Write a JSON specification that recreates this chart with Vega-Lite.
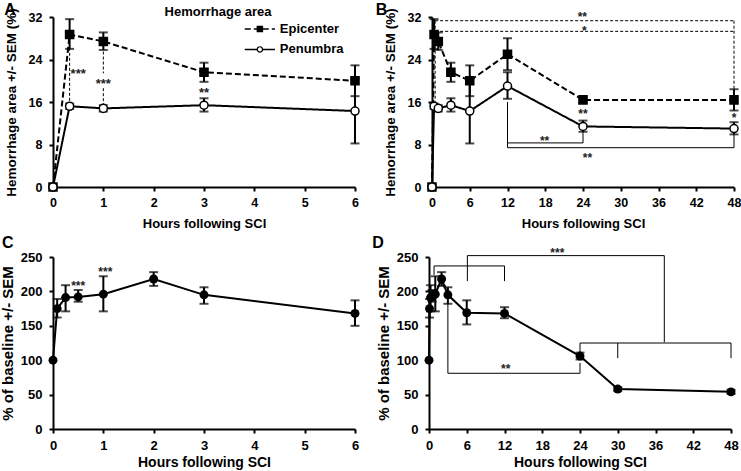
{
"$schema":"https://vega.github.io/schema/vega-lite/v6.json",
"padding":{"left":0,"top":2,"right":2,"bottom":2},
"background":"white",
"config":{
 "font":"Liberation Sans",
 "view":{"stroke":null},
 "axis":{"grid":false,"domainColor":"black","domainWidth":2,"tickColor":"black","tickWidth":2,"tickSize":4,"labelFont":"Liberation Sans","labelFontWeight":"bold","labelColor":"black","titleFont":"Liberation Sans","titleFontWeight":"bold","titleColor":"black","labelFlush":false,"labelOverlap":false},
 "axisX":{"labelPadding":5},
 "axisY":{"labelPadding":7},
 "text":{"font":"Liberation Sans"}
},
"datasets":{
 "A":[
  {"s":"Epicenter","h":0,"v":0,"lo":null,"hi":null},
  {"s":"Epicenter","h":0.33,"v":28.7,"lo":26.0,"hi":31.6},
  {"s":"Epicenter","h":1,"v":27.4,"lo":25.8,"hi":29.1},
  {"s":"Epicenter","h":3,"v":21.6,"lo":19.8,"hi":23.4},
  {"s":"Epicenter","h":6,"v":20.0,"lo":17.1,"hi":22.9},
  {"s":"Penumbra","h":0,"v":0,"lo":null,"hi":null},
  {"s":"Penumbra","h":0.33,"v":15.2,"lo":14.7,"hi":15.7},
  {"s":"Penumbra","h":1,"v":14.8,"lo":14.2,"hi":15.4},
  {"s":"Penumbra","h":3,"v":15.4,"lo":14.2,"hi":16.7},
  {"s":"Penumbra","h":6,"v":14.3,"lo":8.2,"hi":20.4}
 ],
 "B":[
  {"s":"Epicenter","h":0,"v":0,"lo":null,"hi":null},
  {"s":"Epicenter","h":0.33,"v":28.7,"lo":26.0,"hi":31.6},
  {"s":"Epicenter","h":1,"v":27.4,"lo":25.8,"hi":29.1},
  {"s":"Epicenter","h":3,"v":21.6,"lo":19.8,"hi":23.4},
  {"s":"Epicenter","h":6,"v":20.0,"lo":17.1,"hi":22.9},
  {"s":"Epicenter","h":12,"v":25.0,"lo":22.0,"hi":28.0},
  {"s":"Epicenter","h":24,"v":16.4,"lo":15.9,"hi":16.9},
  {"s":"Epicenter","h":48,"v":16.4,"lo":14.4,"hi":18.4},
  {"s":"Penumbra","h":0,"v":0,"lo":null,"hi":null},
  {"s":"Penumbra","h":0.33,"v":15.2,"lo":14.7,"hi":15.7},
  {"s":"Penumbra","h":1,"v":14.8,"lo":14.2,"hi":15.4},
  {"s":"Penumbra","h":3,"v":15.4,"lo":14.2,"hi":16.7},
  {"s":"Penumbra","h":6,"v":14.3,"lo":8.2,"hi":20.4},
  {"s":"Penumbra","h":12,"v":19.0,"lo":16.6,"hi":21.6},
  {"s":"Penumbra","h":24,"v":11.4,"lo":10.4,"hi":12.5},
  {"s":"Penumbra","h":48,"v":11.0,"lo":9.9,"hi":12.2}
 ],
 "C":[
  {"h":0,"v":100,"lo":null,"hi":null},
  {"h":0.083,"v":175,"lo":162,"hi":189},
  {"h":0.25,"v":191,"lo":171,"hi":209},
  {"h":0.5,"v":192,"lo":185,"hi":202},
  {"h":1,"v":196,"lo":171,"hi":222},
  {"h":2,"v":218,"lo":208,"hi":228},
  {"h":3,"v":195,"lo":182,"hi":206},
  {"h":6,"v":168,"lo":150,"hi":187}
 ],
 "D":[
  {"h":0,"v":100,"lo":null,"hi":null},
  {"h":0.083,"v":175,"lo":162,"hi":189},
  {"h":0.25,"v":191,"lo":171,"hi":209},
  {"h":0.5,"v":192,"lo":185,"hi":202},
  {"h":1,"v":196,"lo":171,"hi":222},
  {"h":2,"v":218,"lo":208,"hi":228},
  {"h":3,"v":195,"lo":182,"hi":206},
  {"h":6,"v":169,"lo":152,"hi":187},
  {"h":12,"v":168,"lo":161,"hi":177},
  {"h":24,"v":106,"lo":101,"hi":111},
  {"h":30,"v":58,"lo":55,"hi":61},
  {"h":48,"v":54,"lo":51,"hi":57}
 ],
 "A_dash":[
  {"h":0.33,"h2":0.33,"v":26.2,"v2":16.0},
  {"h":1,"h2":1,"v":25.5,"v2":21.4},
  {"h":1,"h2":1,"v":18.6,"v2":15.6}
 ],
 "A_stars":[
  {"h":0.5,"v":21.8,"t":"***"},
  {"h":1,"v":20.0,"t":"***"},
  {"h":3,"v":18.3,"t":"**"}
 ],
 "A_lab":[
  {"h":-0.854,"v":33.3,"t":"A","k":"letter"},
  {"h":3.28,"v":33.0,"t":"Hemorrhage area","k":"title"}
 ],
 "A_leg_line":[
  {"s":"Epicenter","h":3.81,"h2":4.41,"v":29.75,"v2":29.75},
  {"s":"Penumbra","h":3.81,"h2":4.41,"v":25.9,"v2":25.9}
 ],
 "A_leg_pt":[
  {"s":"Epicenter","h":4.11,"v":29.75,"t":"Epicenter"},
  {"s":"Penumbra","h":4.11,"v":25.9,"t":"Penumbra"}
 ],
 "B_dash":[
  {"h":0.5,"h2":48,"v":31.3,"v2":31.3},
  {"h":0.5,"h2":48,"v":29.3,"v2":29.3},
  {"h":48,"h2":48,"v":31.3,"v2":18.5},
  {"h":0.5,"h2":0.5,"v":31.3,"v2":15.8}
 ],
 "B_solid":[
  {"h":12,"h2":12,"v":16.0,"v2":7.4},
  {"h":12,"h2":24,"v":8.3,"v2":8.3},
  {"h":24,"h2":24,"v":8.3,"v2":10.4},
  {"h":12,"h2":48,"v":7.4,"v2":7.4},
  {"h":48,"h2":48,"v":7.4,"v2":9.9}
 ],
 "B_stars":[
  {"h":23.9,"v":32.5,"t":"**"},
  {"h":24.2,"v":29.9,"t":"*"},
  {"h":24,"v":14.4,"t":"**"},
  {"h":48,"v":13.5,"t":"*"},
  {"h":17.9,"v":9.3,"t":"**"},
  {"h":24.7,"v":6.1,"t":"**"}
 ],
 "B_lab":[{"h":-8.03,"v":33.3,"t":"B"}],
 "C_stars":[
  {"h":0.5,"v":211.8,"t":"***"},
  {"h":1.04,"v":232.6,"t":"***"}
 ],
 "C_lab":[{"h":-0.9,"v":271,"t":"C"}],
 "D_solid":[
  {"h":6.1,"h2":37.4,"v":252,"v2":252},
  {"h":6.1,"h2":6.1,"v":252,"v2":215},
  {"h":37.4,"h2":37.4,"v":252,"v2":126},
  {"h":0.8,"h2":12,"v":237,"v2":237},
  {"h":0.8,"h2":0.8,"v":237,"v2":224},
  {"h":12,"h2":12,"v":237,"v2":215},
  {"h":24,"h2":48,"v":125,"v2":125},
  {"h":24,"h2":24,"v":125,"v2":112},
  {"h":30,"h2":30,"v":125,"v2":103},
  {"h":48,"h2":48,"v":125,"v2":103},
  {"h":3,"h2":3,"v":184,"v2":81},
  {"h":3,"h2":24,"v":81,"v2":81},
  {"h":24,"h2":24,"v":81,"v2":96}
 ],
 "D_stars":[
  {"h":20.4,"v":260,"t":"***"},
  {"h":12.2,"v":91,"t":"**"}
 ],
 "D_lab":[{"h":-8.1,"v":271,"t":"D"}]
},
"vconcat":[
 {"hconcat":[
  {
   "width":302,"height":170,
   "encoding":{
    "x":{"field":"h","type":"quantitative","scale":{"domain":[0,6],"nice":false,"zero":false},"axis":{"values":[0,1,2,3,4,5,6],"title":"Hours following SCI","labelFontSize":12.5,"titleFontSize":13,"titlePadding":9}},
    "y":{"field":"v","type":"quantitative","scale":{"domain":[0,32],"nice":false},"axis":{"values":[0,8,16,24,32],"title":"Hemorrhage area +/- SEM (%)","labelFontSize":12.5,"titleFontSize":13.5,"titlePadding":10}}
   },
   "layer":[
    {"data":{"name":"A_dash"},"mark":{"type":"rule","color":"black","strokeWidth":1,"strokeDash":[3,2]},"encoding":{"x2":{"field":"h2"},"y2":{"field":"v2"}}},
    {"data":{"name":"A"},"mark":{"type":"line","color":"black","strokeWidth":2},"encoding":{"strokeDash":{"field":"s","type":"nominal","scale":{"domain":["Epicenter","Penumbra"],"range":[[6,3],[1,0]]},"legend":null}}},
    {"data":{"name":"A"},"transform":[{"filter":"datum.lo != null"}],"mark":{"type":"errorbar","color":"black","ticks":{"size":9,"thickness":2,"color":"black"},"rule":{"strokeWidth":2,"color":"black"}},
     "encoding":{"y":{"field":"lo","type":"quantitative","scale":{"domain":[0,32],"nice":false},"axis":{"values":[0,8,16,24,32],"title":"Hemorrhage area +/- SEM (%)","labelFontSize":12.5,"titleFontSize":13.5,"titlePadding":10}},"y2":{"field":"hi"}}},
    {"data":{"name":"A"},"mark":{"type":"point","filled":true,"size":65,"stroke":"black","strokeWidth":1.5,"opacity":1},
     "encoding":{"shape":{"field":"s","type":"nominal","scale":{"domain":["Epicenter","Penumbra"],"range":["square","circle"]},"legend":null},"fill":{"field":"s","type":"nominal","scale":{"domain":["Epicenter","Penumbra"],"range":["black","white"]},"legend":null}}},
    {"data":{"name":"A_leg_line"},"mark":{"type":"rule","color":"black","strokeWidth":1.5},"encoding":{"x2":{"field":"h2"},"y2":{"field":"v2"},"strokeDash":{"field":"s","type":"nominal","scale":{"domain":["Epicenter","Penumbra"],"range":[[3,2],[1,0]]},"legend":null}}},
    {"data":{"name":"A_leg_pt"},"mark":{"type":"point","filled":true,"size":28,"stroke":"black","strokeWidth":1.2,"opacity":1},
     "encoding":{"shape":{"field":"s","type":"nominal","scale":{"domain":["Epicenter","Penumbra"],"range":["square","circle"]},"legend":null},"fill":{"field":"s","type":"nominal","scale":{"domain":["Epicenter","Penumbra"],"range":["black","white"]},"legend":null}}},
    {"data":{"name":"A_leg_pt"},"mark":{"type":"text","align":"left","baseline":"middle","dx":20,"fontSize":13,"fontWeight":"bold","color":"black"},"encoding":{"text":{"field":"t"}}},
    {"data":{"name":"A_stars"},"mark":{"type":"text","align":"center","baseline":"middle","fontSize":13,"fontWeight":"bold","color":"#222222","dy":3},"encoding":{"text":{"field":"t"}}},
    {"data":{"name":"A_lab"},"transform":[{"filter":"datum.k == 'letter'"}],"mark":{"type":"text","align":"center","baseline":"middle","fontSize":16,"fontWeight":"bold","color":"black"},"encoding":{"text":{"field":"t"}}},
    {"data":{"name":"A_lab"},"transform":[{"filter":"datum.k == 'title'"}],"mark":{"type":"text","align":"center","baseline":"middle","fontSize":13,"fontWeight":"bold","color":"black"},"encoding":{"text":{"field":"t"}}}
   ]
  },
  {
   "width":302,"height":170,
   "encoding":{
    "x":{"field":"h","type":"quantitative","scale":{"domain":[0,48],"nice":false,"zero":false},"axis":{"values":[0,6,12,18,24,30,36,42,48],"title":"Hours following SCI","labelFontSize":12.5,"titleFontSize":13,"titlePadding":9}},
    "y":{"field":"v","type":"quantitative","scale":{"domain":[0,32],"nice":false},"axis":{"values":[0,8,16,24,32],"title":"Hemorrhage area +/-  SEM (%)","labelFontSize":12.5,"titleFontSize":13.5,"titlePadding":10}}
   },
   "layer":[
    {"data":{"name":"B_dash"},"mark":{"type":"rule","color":"black","strokeWidth":1,"strokeDash":[3,2]},"encoding":{"x2":{"field":"h2"},"y2":{"field":"v2"}}},
    {"data":{"name":"B_solid"},"mark":{"type":"rule","color":"black","strokeWidth":1},"encoding":{"x2":{"field":"h2"},"y2":{"field":"v2"}}},
    {"data":{"name":"B"},"mark":{"type":"line","color":"black","strokeWidth":2},"encoding":{"strokeDash":{"field":"s","type":"nominal","scale":{"domain":["Epicenter","Penumbra"],"range":[[6,3],[1,0]]},"legend":null}}},
    {"data":{"name":"B"},"transform":[{"filter":"datum.lo != null"}],"mark":{"type":"errorbar","color":"black","ticks":{"size":9,"thickness":2,"color":"black"},"rule":{"strokeWidth":2,"color":"black"}},
     "encoding":{"y":{"field":"lo","type":"quantitative","scale":{"domain":[0,32],"nice":false},"axis":{"values":[0,8,16,24,32],"title":"Hemorrhage area +/-  SEM (%)","labelFontSize":12.5,"titleFontSize":13.5,"titlePadding":10}},"y2":{"field":"hi"}}},
    {"data":{"name":"B"},"mark":{"type":"point","filled":true,"size":65,"stroke":"black","strokeWidth":1.5,"opacity":1},
     "encoding":{"shape":{"field":"s","type":"nominal","scale":{"domain":["Epicenter","Penumbra"],"range":["square","circle"]},"legend":null},"fill":{"field":"s","type":"nominal","scale":{"domain":["Epicenter","Penumbra"],"range":["black","white"]},"legend":null}}},
    {"data":{"name":"B_stars"},"mark":{"type":"text","align":"center","baseline":"middle","fontSize":12,"fontWeight":"bold","color":"#222222","dy":3},"encoding":{"text":{"field":"t"}}},
    {"data":{"name":"B_lab"},"mark":{"type":"text","align":"center","baseline":"middle","fontSize":16,"fontWeight":"bold","color":"black"},"encoding":{"text":{"field":"t"}}}
   ]
  }
 ],"spacing":12},
 {"hconcat":[
  {
   "width":302,"height":172,
   "encoding":{
    "x":{"field":"h","type":"quantitative","scale":{"domain":[0,6],"nice":false,"zero":false},"axis":{"values":[0,1,2,3,4,5,6],"title":"Hours following SCI","labelFontSize":13,"titleFontSize":14,"titlePadding":3,"labelPadding":6}},
    "y":{"field":"v","type":"quantitative","scale":{"domain":[0,250],"nice":false},"axis":{"values":[0,50,100,150,200,250],"title":"% of baseline +/- SEM","labelFontSize":13,"titleFontSize":15,"titlePadding":5}}
   },
   "layer":[
    {"data":{"name":"C"},"mark":{"type":"line","color":"black","strokeWidth":2}},
    {"data":{"name":"C"},"transform":[{"filter":"datum.lo != null"}],"mark":{"type":"errorbar","color":"black","ticks":{"size":9,"thickness":2,"color":"black"},"rule":{"strokeWidth":2,"color":"black"}},
     "encoding":{"y":{"field":"lo","type":"quantitative","scale":{"domain":[0,250],"nice":false},"axis":{"values":[0,50,100,150,200,250],"title":"% of baseline +/- SEM","labelFontSize":13,"titleFontSize":15,"titlePadding":5}},"y2":{"field":"hi"}}},
    {"data":{"name":"C"},"mark":{"type":"point","filled":true,"size":80,"color":"black","opacity":1}},
    {"data":{"name":"C_stars"},"mark":{"type":"text","align":"center","baseline":"middle","fontSize":12,"fontWeight":"bold","color":"#222222","dy":3},"encoding":{"text":{"field":"t"}}},
    {"data":{"name":"C_lab"},"mark":{"type":"text","align":"center","baseline":"middle","fontSize":16,"fontWeight":"bold","color":"black"},"encoding":{"text":{"field":"t"}}}
   ]
  },
  {
   "width":302,"height":172,
   "encoding":{
    "x":{"field":"h","type":"quantitative","scale":{"domain":[0,48],"nice":false,"zero":false},"axis":{"values":[0,6,12,18,24,30,36,42,48],"title":"Hours following SCI","labelFontSize":13,"titleFontSize":14,"titlePadding":3,"labelPadding":6}},
    "y":{"field":"v","type":"quantitative","scale":{"domain":[0,250],"nice":false},"axis":{"values":[0,50,100,150,200,250],"title":"% of baseline +/- SEM","labelFontSize":13,"titleFontSize":15,"titlePadding":5}}
   },
   "layer":[
    {"data":{"name":"D_solid"},"mark":{"type":"rule","color":"black","strokeWidth":1},"encoding":{"x2":{"field":"h2"},"y2":{"field":"v2"}}},
    {"data":{"name":"D"},"mark":{"type":"line","color":"black","strokeWidth":2}},
    {"data":{"name":"D"},"transform":[{"filter":"datum.lo != null"}],"mark":{"type":"errorbar","color":"black","ticks":{"size":9,"thickness":2,"color":"black"},"rule":{"strokeWidth":2,"color":"black"}},
     "encoding":{"y":{"field":"lo","type":"quantitative","scale":{"domain":[0,250],"nice":false},"axis":{"values":[0,50,100,150,200,250],"title":"% of baseline +/- SEM","labelFontSize":13,"titleFontSize":15,"titlePadding":5}},"y2":{"field":"hi"}}},
    {"data":{"name":"D"},"mark":{"type":"point","filled":true,"size":80,"color":"black","opacity":1}},
    {"data":{"name":"D_stars"},"mark":{"type":"text","align":"center","baseline":"middle","fontSize":12,"fontWeight":"bold","color":"#222222","dy":3},"encoding":{"text":{"field":"t"}}},
    {"data":{"name":"D_lab"},"mark":{"type":"text","align":"center","baseline":"middle","fontSize":16,"fontWeight":"bold","color":"black"},"encoding":{"text":{"field":"t"}}}
   ]
  }
 ],"spacing":12}
],
"spacing":3
}
